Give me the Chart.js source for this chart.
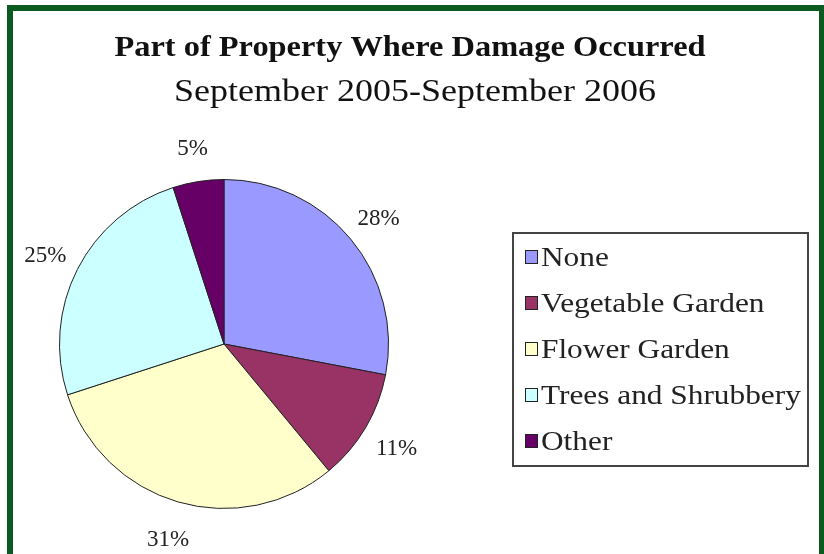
<!DOCTYPE html>
<html>
<head>
<meta charset="utf-8">
<script src="https://cdn.jsdelivr.net/npm/chart.js@4/dist/chart.umd.min.js"></script>
<style>
  html, body { margin: 0; padding: 0; background: #fff; }
  #wrap { width: 824px; height: 554px; }
</style>
</head>
<body>
<div id="wrap"><canvas id="pie" width="824" height="554"></canvas></div>
<script>
"use strict";

// Chart data
const categories = ["None", "Vegetable Garden", "Flower Garden", "Trees and Shrubbery", "Other"];
const shares = [28, 11, 31, 25, 5];
const sliceColors = ["#9999ff", "#993366", "#ffffcc", "#ccffff", "#660066"];
const chartTitle = "Part of Property Where Damage Occurred";
const chartSubtitle = "September 2005-September 2006";

const serif = '"Liberation Serif", "Times New Roman", serif';

// draw text a little wider than the font, like the original picture
function wideText(ctx, text, x, y, font, stretch) {
  ctx.save();
  ctx.translate(x, y);
  ctx.scale(stretch, 1);
  ctx.font = font;
  ctx.fillText(text, 0, 0);
  ctx.restore();
}

// frame, titles, outside labels and the boxed legend
const decorations = {
  id: "decorations",
  beforeDraw(chart) {
    const ctx = chart.ctx;
    ctx.save();
    ctx.fillStyle = "#fff";
    ctx.fillRect(0, 0, chart.width, chart.height);
    ctx.fillStyle = "#0b5a1f";
    ctx.fillRect(7, 5, 6, chart.height - 5);
    ctx.fillRect(7, 5, chart.width - 7, 6);
    ctx.fillRect(819, 5, 5, chart.height - 5);
    ctx.restore();
  },
  afterDraw(chart) {
    const ctx = chart.ctx;
    ctx.save();
    ctx.fillStyle = "#111";
    ctx.textAlign = "center";
    ctx.textBaseline = "alphabetic";
    wideText(ctx, chartTitle, 410, 56, "bold 30px " + serif, 1.08);
    wideText(ctx, chartSubtitle, 415, 101, "32px " + serif, 1.125);

    // percentage labels outside the slices
    const total = shares.reduce((a, b) => a + b, 0);
    ctx.font = "23px " + serif;
    ctx.fillStyle = "#222";
    ctx.textBaseline = "middle";
    chart.getDatasetMeta(0).data.forEach((arc, i) => {
      const mid = (arc.startAngle + arc.endAngle) / 2;
      const d = arc.outerRadius + 36;
      const pct = Math.round(shares[i] / total * 100) + "%";
      ctx.fillText(pct, arc.x + Math.cos(mid) * d, arc.y + Math.sin(mid) * d + 3);
    });

    // legend box
    const box = { x: 513, y: 233, w: 295, h: 233 };
    ctx.strokeStyle = "#444";
    ctx.lineWidth = 2;
    ctx.strokeRect(box.x, box.y, box.w, box.h);
    ctx.textAlign = "left";
    ctx.textBaseline = "alphabetic";
    categories.forEach((name, i) => {
      const cy = 257 + i * 46;
      ctx.fillStyle = sliceColors[i];
      ctx.fillRect(525, cy - 7, 12, 13);
      ctx.strokeStyle = "#222";
      ctx.lineWidth = 1;
      ctx.strokeRect(525.5, cy - 6.5, 12, 13);
      ctx.fillStyle = "#222";
      wideText(ctx, name, 541, cy + 9, "27px " + serif, 1.16);
    });
    ctx.restore();
  }
};

const ctx = document.getElementById("pie").getContext("2d");
new Chart(ctx, {
  type: "pie",
  data: {
    labels: categories,
    datasets: [
      {
        data: shares,
        backgroundColor: sliceColors,
        borderColor: "#222",
        borderWidth: 1,
      },
    ],
  },
  options: {
    responsive: false,
    animation: false,
    layout: {
      padding: { left: 59, right: 435, top: 179, bottom: 45 },
    },
    plugins: {
      legend: { display: false },
      tooltip: { enabled: false },
    },
  },
  plugins: [decorations],
});
</script>
</body>
</html>
